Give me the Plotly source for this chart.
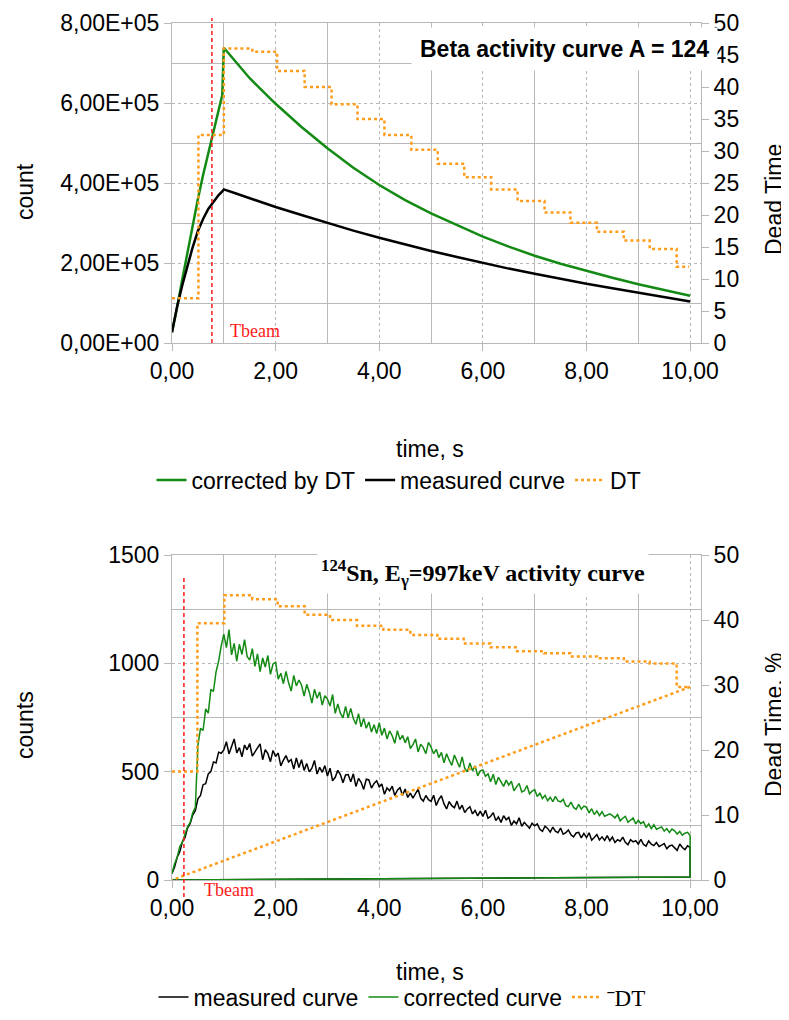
import plotly.graph_objects as go

# ---------- top panel: beta activity curve, A = 124 ----------
T_BETA = [0.0, 0.05, 0.1, 0.2, 0.3, 0.4, 0.5, 0.6, 0.7, 0.8, 0.9, 0.97, 1.0, 1.25, 1.5,
          2.0, 2.5, 3.0, 3.5, 4.0, 4.5, 5.0, 5.5, 6.0, 6.5, 7.0, 7.5, 8.0, 8.5, 9.0, 9.5, 10.0]
BETA_CORRECTED = [0.27e5, 0.55e5, 0.9e5, 1.6e5, 2.3e5, 2.95e5, 3.6e5, 4.2e5, 4.75e5, 5.25e5, 5.8e5,
                  6.2e5, 7.38e5, 7.0e5, 6.62e5, 5.98e5, 5.4e5, 4.87e5, 4.38e5, 3.95e5, 3.57e5,
                  3.24e5, 2.94e5, 2.66e5, 2.41e5, 2.18e5, 1.98e5, 1.8e5, 1.63e5, 1.47e5, 1.32e5, 1.18e5]
BETA_MEASURED = [0.27e5, 0.6e5, 0.92e5, 1.45e5, 1.95e5, 2.4e5, 2.8e5, 3.1e5, 3.35e5, 3.53e5, 3.7e5,
                 3.79e5, 3.84e5, 3.73e5, 3.62e5, 3.4e5, 3.2e5, 3.0e5, 2.81e5, 2.63e5, 2.46e5,
                 2.3e5, 2.15e5, 2.0e5, 1.86e5, 1.73e5, 1.6e5, 1.48e5, 1.37e5, 1.26e5, 1.15e5, 1.04e5]
DT_BETA_T = [0.0, 0.51, 1.0, 1.55, 2.03, 2.56, 3.08, 3.58, 4.10, 4.62, 5.13, 5.64, 6.16, 6.67,
             7.19, 7.69, 8.20, 8.72, 9.22, 9.74, 9.98]
DT_BETA = [7.0, 32.5, 46.0, 45.5, 42.5, 40.0, 37.3, 35.0, 32.5, 30.2, 28.0, 25.9, 24.0, 22.2,
           20.4, 18.8, 17.4, 16.0, 14.7, 11.9, 11.9]
TBEAM_BETA = 0.77

# ---------- bottom panel: 124Sn, 997 keV gamma line ----------
T_GAMMA = [
    0.0, 0.05, 0.1, 0.15, 0.2, 0.25, 0.3, 0.35, 0.4, 0.45,
    0.5, 0.55, 0.6, 0.65, 0.7, 0.75, 0.8, 0.85, 0.9, 0.95,
    1.0, 1.05, 1.1, 1.15, 1.2, 1.25, 1.3, 1.35, 1.4, 1.45,
    1.5, 1.55, 1.6, 1.65, 1.7, 1.75, 1.8, 1.85, 1.9, 1.95,
    2.0, 2.05, 2.1, 2.15, 2.2, 2.25, 2.3, 2.35, 2.4, 2.45,
    2.5, 2.55, 2.6, 2.65, 2.7, 2.75, 2.8, 2.85, 2.9, 2.95,
    3.0, 3.05, 3.1, 3.15, 3.2, 3.25, 3.3, 3.35, 3.4, 3.45,
    3.5, 3.55, 3.6, 3.65, 3.7, 3.75, 3.8, 3.85, 3.9, 3.95,
    4.0, 4.05, 4.1, 4.15, 4.2, 4.25, 4.3, 4.35, 4.4, 4.45,
    4.5, 4.55, 4.6, 4.65, 4.7, 4.75, 4.8, 4.85, 4.9, 4.95,
    5.0, 5.05, 5.1, 5.15, 5.2, 5.25, 5.3, 5.35, 5.4, 5.45,
    5.5, 5.55, 5.6, 5.65, 5.7, 5.75, 5.8, 5.85, 5.9, 5.95,
    6.0, 6.05, 6.1, 6.15, 6.2, 6.25, 6.3, 6.35, 6.4, 6.45,
    6.5, 6.55, 6.6, 6.65, 6.7, 6.75, 6.8, 6.85, 6.9, 6.95,
    7.0, 7.05, 7.1, 7.15, 7.2, 7.25, 7.3, 7.35, 7.4, 7.45,
    7.5, 7.55, 7.6, 7.65, 7.7, 7.75, 7.8, 7.85, 7.9, 7.95,
    8.0, 8.05, 8.1, 8.15, 8.2, 8.25, 8.3, 8.35, 8.4, 8.45,
    8.5, 8.55, 8.6, 8.65, 8.7, 8.75, 8.8, 8.85, 8.9, 8.95,
    9.0, 9.05, 9.1, 9.15, 9.2, 9.25, 9.3, 9.35, 9.4, 9.45,
    9.5, 9.55, 9.6, 9.65, 9.7, 9.75, 9.8, 9.85, 9.9, 9.95,
    10.0, 10.0, 0.0,
]
GAMMA_MEASURED = [
    30, 60, 105, 130, 175, 195, 240, 260, 300, 320,
    375, 390, 440, 445, 490, 500, 545, 540, 590, 585,
    600, 638, 582, 620, 651, 587, 611, 569, 623, 601,
    630, 572, 589, 611, 628, 555, 602, 584, 546, 598,
    570, 586, 527, 553, 574, 545, 556, 512, 563, 519,
    555, 506, 538, 499, 516, 552, 489, 520, 497, 528,
    480, 516, 458, 474, 506, 487, 449, 485, 487, 453,
    490, 432, 469, 451, 418, 465, 462, 424, 446, 458,
    430, 443, 396, 425, 412, 433, 390, 415, 426, 391,
    420, 381, 401, 378, 396, 419, 377, 364, 390, 371,
    363, 391, 344, 372, 389, 351, 328, 362, 343, 333,
    364, 326, 345, 311, 328, 338, 305, 321, 296, 318,
    293, 322, 285, 294, 311, 274, 291, 266, 297, 278,
    289, 252, 272, 259, 287, 248, 266, 253, 239, 262,
    250, 259, 234, 225, 248, 238, 221, 244, 225, 218,
    240, 211, 218, 231, 209, 199, 217, 220, 194, 215,
    196, 218, 184, 196, 210, 185, 199, 183, 205, 181,
    198, 173, 186, 179, 198, 174, 163, 186, 176, 181,
    166, 188, 164, 156, 180, 165, 159, 173, 155, 161,
    168, 144, 157, 161, 150, 137, 166, 150, 140, 158,
    150, 14, 0,
]
GAMMA_CORRECTED = [
    30, 75, 105, 155, 175, 215, 245, 265, 310, 335,
    620, 700, 690, 790, 770, 880, 870, 960, 1010, 1080,
    1135, 1073, 1156, 1039, 1092, 1010, 1088, 1041, 1109, 1032,
    1015, 1068, 986, 1044, 962, 1025, 983, 1036, 949, 997,
    1005, 927, 954, 906, 963, 910, 872, 944, 896, 923,
    900, 849, 903, 867, 816, 880, 839, 868, 807, 851,
    835, 803, 856, 769, 812, 770, 748, 801, 749, 792,
    745, 719, 768, 707, 746, 700, 729, 683, 717, 676,
    726, 668, 701, 651, 688, 666, 631, 689, 648, 668,
    633, 661, 607, 625, 651, 591, 627, 611, 583, 635,
    613, 583, 603, 565, 589, 541, 583, 553, 529, 577,
    551, 520, 568, 515, 499, 540, 504, 527, 481, 504,
    508, 479, 490, 453, 488, 441, 474, 455, 432, 461,
    438, 456, 412, 430, 446, 406, 412, 436, 398, 410,
    417, 385, 402, 376, 391, 366, 382, 362, 386, 365,
    361, 372, 343, 339, 360, 335, 326, 349, 327, 341,
    336, 310, 329, 302, 319, 297, 315, 294, 300, 305,
    297, 287, 302, 273, 285, 294, 266, 274, 286, 259,
    276, 260, 269, 242, 259, 237, 255, 234, 240, 245,
    226, 237, 219, 235, 227, 212, 224, 207, 216, 220,
    205, 14, 0,
]
DT_GAMMA_T = [0.0, 0.49, 1.01, 1.55, 2.04, 2.56, 3.05, 3.57, 4.08, 4.60, 5.12, 5.63, 6.15,
              6.66, 7.18, 7.69, 8.20, 8.72, 9.22, 9.74, 10.0]
DT_GAMMA = [16.7, 39.5, 43.8, 43.2, 42.1, 40.8, 40.0, 39.1, 38.5, 37.7, 37.1, 36.4, 35.8,
            35.2, 34.9, 34.4, 34.1, 33.6, 33.3, 29.7, 29.7]
DT_GAMMA_RETURN = [10.0, 0.0]
DT_GAMMA_RETURN_V = [29.7, 0.0]
TBEAM_GAMMA = 0.23

X_TICKS = [0, 2, 4, 6, 8, 10]
X_TICKTEXT = ['0,00', '2,00', '4,00', '6,00', '8,00', '10,00']
X_MINOR = [1, 3, 5, 7, 9]
Y_BETA_TICKS = [0, 2e5, 4e5, 6e5, 8e5]
Y_BETA_TICKTEXT = ['0,00E+00', '2,00E+05', '4,00E+05', '6,00E+05', '8,00E+05']
Y_BETA_MINOR = [1e5, 3e5, 5e5, 7e5]
Y_GAMMA_TICKS = [0, 500, 1000, 1500]
Y_GAMMA_MINOR = [250, 750, 1250]

GREEN = '#138a13'
ORANGE = '#ff9c1a'
RED = '#ff1a1a'
GRID = '#b8b8b8'
SANS = 'Liberation Sans, Arial, sans-serif'
SERIF = 'Liberation Serif, Times New Roman, serif'
FS = 23

# the page body adds an 8px margin, so the figure is drawn smaller and
# every pixel position below is given in window pixels
OFF = 8
W, H = 789 - OFF, 1020 - 2 * OFF


def px(x):
    return (x - OFF) / W


def py(y):
    return 1 - (y - OFF) / H


XDOM = [px(172), px(701)]
TOP_DOM = [py(343), py(23)]
BOT_DOM = [py(880), py(555)]

fig = go.Figure()

# top panel traces
fig.add_trace(go.Scatter(x=T_BETA, y=BETA_CORRECTED, mode='lines', name='corrected by DT',
                         line=dict(color=GREEN, width=2.5), xaxis='x', yaxis='y'))
fig.add_trace(go.Scatter(x=T_BETA, y=BETA_MEASURED, mode='lines', name='measured curve',
                         line=dict(color='black', width=2.5), xaxis='x', yaxis='y'))
fig.add_trace(go.Scatter(x=DT_BETA_T, y=DT_BETA, mode='lines', name='DT', line_shape='hv',
                         line=dict(color=ORANGE, width=2.5, dash='dot'), xaxis='x', yaxis='y2'))

# bottom panel traces
fig.add_trace(go.Scatter(x=T_GAMMA, y=GAMMA_MEASURED, mode='lines', name='measured curve',
                         line=dict(color='black', width=1.5), xaxis='x2', yaxis='y3',
                         legend='legend2'))
fig.add_trace(go.Scatter(x=T_GAMMA, y=GAMMA_CORRECTED, mode='lines', name='corrected curve',
                         line=dict(color=GREEN, width=1.5), xaxis='x2', yaxis='y3',
                         legend='legend2'))
fig.add_trace(go.Scatter(x=DT_GAMMA_T, y=DT_GAMMA, mode='lines', line_shape='hv',
                         name='<span style="font-family:Liberation Serif, serif">ˉDT</span>',
                         line=dict(color=ORANGE, width=2.5, dash='dot'), xaxis='x2', yaxis='y4',
                         legend='legend2'))
fig.add_trace(go.Scatter(x=DT_GAMMA_RETURN, y=DT_GAMMA_RETURN_V, mode='lines', showlegend=False,
                         line=dict(color=ORANGE, width=2.5, dash='dot'), xaxis='x2', yaxis='y4'))


def xaxis(anchor):
    return dict(domain=XDOM, anchor=anchor, range=[0, 10.21], tickvals=X_TICKS, ticktext=X_TICKTEXT,
                showgrid=True, gridcolor=GRID, griddash='3px,3px', gridwidth=1,
                minor=dict(tickvals=X_MINOR, showgrid=True, gridcolor=GRID, griddash='solid'),
                showline=True, linecolor=GRID, mirror=True, ticks='outside', ticklen=7,
                tickcolor=GRID, zeroline=False, automargin=False,
                tickfont=dict(family=SANS, size=FS, color='black'))


def yleft(dom, anchor, rng, tv, tt, minor):
    d = dict(domain=dom, anchor=anchor, range=rng, tickvals=tv, showgrid=True, gridcolor=GRID,
             griddash='3px,3px', minor=dict(tickvals=minor, showgrid=True, gridcolor=GRID,
                                            griddash='solid'),
             showline=True, linecolor=GRID, ticks='outside', ticklen=7, tickcolor=GRID,
             zeroline=False, automargin=False, tickfont=dict(family=SANS, size=FS, color='black'))
    if tt:
        d['ticktext'] = tt
    return d


def yright(over, anchor, dtick):
    return dict(overlaying=over, anchor=anchor, side='right', range=[0, 50], dtick=dtick,
                showgrid=False, showline=True, linecolor=GRID, ticks='outside', ticklen=7,
                tickcolor=GRID, zeroline=False, automargin=False,
                tickfont=dict(family=SANS, size=FS, color='black'))


def label(text, x, y, angle=0):
    return dict(text=text, xref='paper', yref='paper', x=px(x), y=py(y),
                xanchor='center', yanchor='middle', textangle=angle, showarrow=False,
                font=dict(family=SANS, size=FS, color='black'))


annotations = [
    dict(text='<b>Beta activity curve A = 124</b>', xref='paper', yref='paper', x=px(564),
         y=py(49), xanchor='center', yanchor='middle', showarrow=False,
         font=dict(family=SANS, size=FS, color='black'), bgcolor='white', borderpad=8),
    dict(text='<b><sup>124</sup>Sn, E<sub>γ</sub>=997keV activity curve</b>', xref='paper',
         yref='paper', x=px(483), y=py(573), xanchor='center', yanchor='middle',
         showarrow=False, font=dict(family=SERIF, size=24, color='black'),
         bgcolor='white', borderpad=3),
    dict(text='Tbeam', xref='x', yref='paper', x=1.08, y=py(331), xanchor='left',
         yanchor='middle', showarrow=False, font=dict(family=SERIF, size=18, color=RED)),
    dict(text='Tbeam', xref='x2', yref='paper', x=0.57, y=py(890), xanchor='left',
         yanchor='middle', showarrow=False, font=dict(family=SERIF, size=18, color=RED)),
    label('count', 25, 192, -90),
    label('Dead Time', 774, 200, -90),
    label('time, s', 430, 449),
    label('counts', 25, 725, -90),
    label('Dead Time. %', 774, 725, -90),
    label('time, s', 430, 972),
]

shapes = [
    dict(type='line', xref='x', yref='paper', x0=TBEAM_BETA, x1=TBEAM_BETA, y0=py(343),
         y1=py(18), line=dict(color=RED, width=1.5, dash='4px,3px')),
    dict(type='line', xref='x2', yref='paper', x0=TBEAM_GAMMA, x1=TBEAM_GAMMA, y0=py(897),
         y1=py(575), line=dict(color=RED, width=1.5, dash='4px,3px')),
]

fig.update_layout(
    template='none',
    width=W, height=H, autosize=False,
    margin=dict(l=0, r=0, t=0, b=0, pad=0, autoexpand=False),
    paper_bgcolor='white', plot_bgcolor='white',
    font=dict(family=SANS, size=FS, color='black'),
    xaxis=xaxis('y'),
    yaxis=yleft(TOP_DOM, 'x', [0, 8e5], Y_BETA_TICKS, Y_BETA_TICKTEXT, Y_BETA_MINOR),
    yaxis2=yright('y', 'x', 5),
    xaxis2=xaxis('y3'),
    yaxis3=yleft(BOT_DOM, 'x2', [0, 1500], Y_GAMMA_TICKS, None, Y_GAMMA_MINOR),
    yaxis4=yright('y3', 'x2', 10),
    legend=dict(orientation='h', x=px(399), xanchor='center', y=py(480), yanchor='middle',
                font=dict(family=SANS, size=FS, color='black'), bgcolor='rgba(0,0,0,0)'),
    legend2=dict(orientation='h', x=px(402), xanchor='center', y=py(997), yanchor='middle',
                 font=dict(family=SANS, size=FS, color='black'), bgcolor='rgba(0,0,0,0)'),
    annotations=annotations,
    shapes=shapes,
    showlegend=True,
)

fig.write_html("out.html")
